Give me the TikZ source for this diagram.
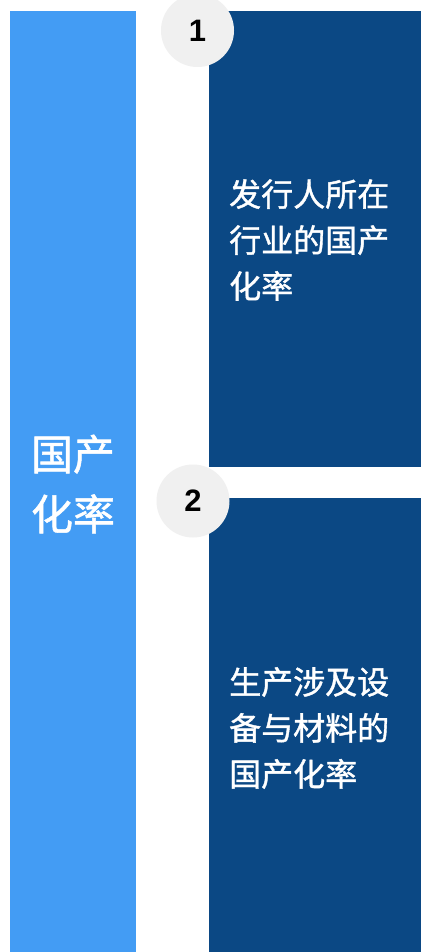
\documentclass[tikz,border=0pt]{standalone}
\usepackage{fontspec}
\setmainfont{Liberation Sans}
\newfontfamily\cjk{Noto Sans CJK SC}[UprightFeatures={FakeBold=1.2}]
\definecolor{lightbar}{HTML}{439CF4}
\definecolor{darkbox}{HTML}{0B4884}
\definecolor{badge}{HTML}{F0F0F0}
\begin{document}
\begin{tikzpicture}[x=1pt,y=-1pt,
  bigtext/.style={text=white,align=center,font=\cjk\fontsize{42}{60}\selectfont,inner sep=0pt},
  boxtext/.style={text=white,align=left,font=\cjk\fontsize{32}{46}\selectfont,inner sep=0pt,anchor=west},
  numbadge/.style={circle,fill=badge,minimum size=73pt,inner sep=0pt,font=\bfseries\fontsize{31}{31}\selectfont,text=black}]
\useasboundingbox (0,0) rectangle (421,952);
\fill[white] (0,0) rectangle (421,952);
\fill[lightbar] (10,11) rectangle (136,952);
\fill[darkbox] (209,11) rectangle (421,467);
\fill[darkbox] (209,498) rectangle (421,952);
\node[bigtext] (bartext) at (73,484) {国产\\化率};
\node[boxtext] (t1) at (229,240) {发行人所在\\行业的国产\\化率};
\node[boxtext] (t2) at (229,728) {生产涉及设\\备与材料的\\国产化率};
\node[numbadge] (c1) at (197.5,30.5) {1};
\node[numbadge] (c2) at (193,501) {2};
\end{tikzpicture}
\end{document}
